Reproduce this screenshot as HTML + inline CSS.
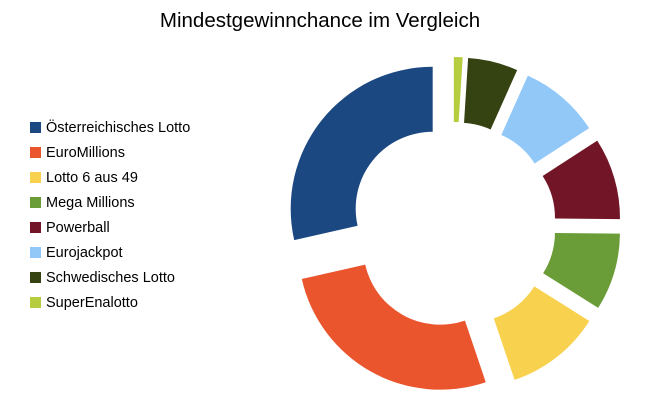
<!DOCTYPE html>
<html><head><meta charset="utf-8"><style>
body{margin:0;background:#fff;width:654px;height:414px;overflow:hidden;font-family:"Liberation Sans",sans-serif}
</style></head><body>
<svg width="654" height="414" viewBox="0 0 654 414">
<text x="320" y="27" text-anchor="middle" font-size="20.5" fill="#000" font-family="Liberation Sans, sans-serif">Mindestgewinnchance im Vergleich</text>
<g id="slices"></g>
<g id="legend"></g>
</svg>
<script>
const categories = ["Österreichisches Lotto","EuroMillions","Lotto 6 aus 49","Mega Millions","Powerball","Eurojackpot","Schwedisches Lotto","SuperEnalotto"];
const values = [28.6, 26.7, 10.9, 8.8, 9.3, 9.2, 5.7, 1.0];
const colors = ["#1c4882","#ea552d","#f8d24f","#6a9c37","#721627","#92c8f8","#354211","#b5cd3e"];
const cx = 453, cy = 225, R = 142, r = 77, explode = 26;
const NS = "http://www.w3.org/2000/svg";
const total = values.reduce((a,b)=>a+b,0);
function pt(a, rad, ox, oy){
  const t = a*Math.PI/180;
  return [cx+ox - rad*Math.sin(t), cy+oy - rad*Math.cos(t)];
}
const g = document.getElementById("slices");
let acc = 0;
values.forEach((v,i)=>{
  const a0 = acc/total*360, a1 = (acc+v)/total*360; acc += v;
  const mid = (a0+a1)/2*Math.PI/180;
  const ox = -explode*Math.sin(mid), oy = -explode*Math.cos(mid);
  const p0 = pt(a0,R,ox,oy), p1 = pt(a1,R,ox,oy), q1 = pt(a1,r,ox,oy), q0 = pt(a0,r,ox,oy);
  const large = (a1-a0)>180?1:0;
  const d = `M${p0[0]},${p0[1]} A${R},${R} 0 ${large} 0 ${p1[0]},${p1[1]} L${q1[0]},${q1[1]} A${r},${r} 0 ${large} 1 ${q0[0]},${q0[1]} Z`;
  const path = document.createElementNS(NS,"path");
  path.setAttribute("d", d);
  path.setAttribute("fill", colors[i]);
  
  
  g.appendChild(path);
});
const lg = document.getElementById("legend");
categories.forEach((c,i)=>{
  const y = 127 + i*25;
  const item = document.createElementNS(NS,"g");
  
  
  const sq = document.createElementNS(NS,"rect");
  sq.setAttribute("x",30); sq.setAttribute("y",y-5); sq.setAttribute("width",11); sq.setAttribute("height",11);
  sq.setAttribute("fill",colors[i]);
  
  
  const tx = document.createElementNS(NS,"text");
  tx.setAttribute("x",46); tx.setAttribute("y",y+5);
  tx.setAttribute("font-size","14.5");
  tx.setAttribute("fill","#000");
  tx.textContent = c;
  
  
  item.appendChild(sq); item.appendChild(tx);
  lg.appendChild(item);
});
</script>
</body></html>
